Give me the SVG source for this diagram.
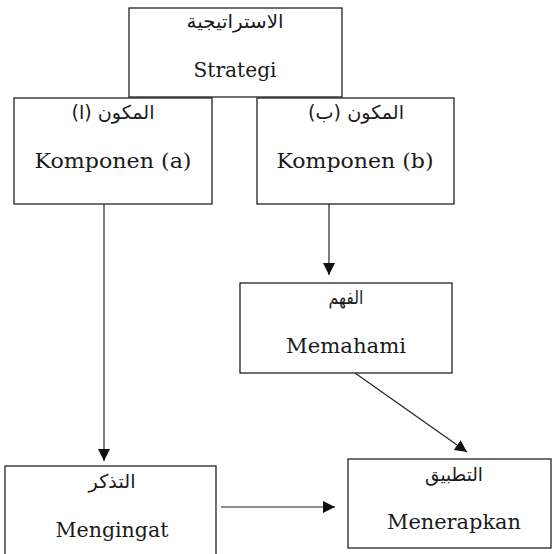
<svg xmlns="http://www.w3.org/2000/svg" width="552" height="554" viewBox="0 0 552 554">
  <style>
    .box { fill: #ffffff; stroke: #222222; stroke-width: 1.3; }
    .ar { font-family: "DejaVu Sans", "Noto Sans", sans-serif; font-size: 19px; fill: #1a1a1a; text-anchor: middle; }
    .en { font-family: "DejaVu Serif", "Liberation Serif", serif; font-size: 21px; fill: #1a1a1a; text-anchor: middle; }
    .link { stroke: #222222; stroke-width: 1.2; fill: none; marker-end: url(#head); }
  </style>
  <defs>
    <marker id="head" markerWidth="12" markerHeight="12" refX="12" refY="6" orient="auto" markerUnits="userSpaceOnUse">
      <path d="M0,0 L12,6 L0,12 Z" fill="#111111"/>
    </marker>
  </defs>
  <rect width="552" height="554" fill="#ffffff"/>

  <g id="strategi">
    <rect class="box" x="129" y="8" width="213" height="89"/>
    <text class="ar" x="235" y="28" direction="rtl" textLength="97" lengthAdjust="spacingAndGlyphs">الاستراتيجية</text>
    <text class="en" x="235" y="77" textLength="83" lengthAdjust="spacingAndGlyphs">Strategi</text>
  </g>

  <g id="komponen-a">
    <rect class="box" x="14" y="98" width="198" height="106"/>
    <text class="ar" x="113" y="119" direction="rtl" textLength="83" lengthAdjust="spacingAndGlyphs">المكون (ا)</text>
    <text class="en" x="113" y="168" textLength="157" lengthAdjust="spacingAndGlyphs">Komponen (a)</text>
  </g>

  <g id="komponen-b">
    <rect class="box" x="257" y="98" width="197" height="106"/>
    <text class="ar" x="356" y="119" direction="rtl" textLength="96" lengthAdjust="spacingAndGlyphs">المكون (ب)</text>
    <text class="en" x="355" y="168" textLength="157" lengthAdjust="spacingAndGlyphs">Komponen (b)</text>
  </g>

  <g id="memahami">
    <rect class="box" x="240" y="283" width="212" height="90"/>
    <text class="ar" x="346" y="304" direction="rtl" textLength="35" lengthAdjust="spacingAndGlyphs">الفهم</text>
    <text class="en" x="346" y="353" textLength="120" lengthAdjust="spacingAndGlyphs">Memahami</text>
  </g>

  <g id="mengingat">
    <rect class="box" x="5" y="466" width="211" height="100"/>
    <text class="ar" x="112" y="488" direction="rtl" textLength="47" lengthAdjust="spacingAndGlyphs">التذكر</text>
    <text class="en" x="112" y="537" textLength="113" lengthAdjust="spacingAndGlyphs">Mengingat</text>
  </g>

  <g id="menerapkan">
    <rect class="box" x="348" y="459" width="203" height="89"/>
    <text class="ar" x="454" y="481" direction="rtl" textLength="58" lengthAdjust="spacingAndGlyphs">التطبيق</text>
    <text class="en" x="454" y="529" textLength="134" lengthAdjust="spacingAndGlyphs">Menerapkan</text>
  </g>

  <g id="connectors">
    <line class="link" x1="104" y1="204" x2="104" y2="461"/>
    <line class="link" x1="329" y1="204" x2="329" y2="275"/>
    <line class="link" x1="355" y1="373" x2="467" y2="452"/>
    <line class="link" x1="221" y1="507" x2="335" y2="507"/>
  </g>
</svg>
